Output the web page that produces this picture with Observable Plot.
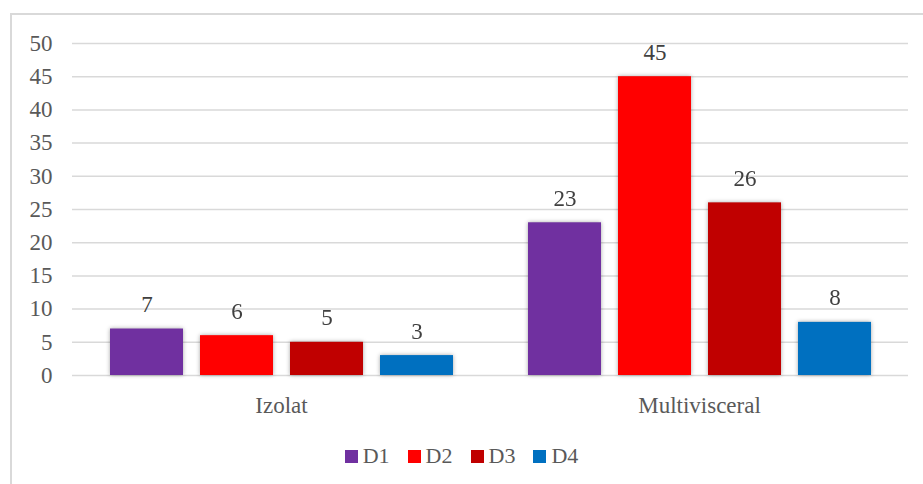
<!DOCTYPE html>
<html>
<head>
<meta charset="utf-8">
<script src="https://cdn.jsdelivr.net/npm/d3@7"></script>
<script src="https://cdn.jsdelivr.net/npm/@observablehq/plot@0.6"></script>
<style>
  html, body { margin: 0; padding: 0; background: #fff; overflow: hidden; }
  #wrap { position: relative; width: 923px; height: 484px; overflow: hidden; font-family: "Liberation Serif", "DejaVu Serif", serif; }
  #frame { position: absolute; left: 10px; top: 13px; width: 940px; height: 520px; border: 2px solid #d9d9d9; box-sizing: border-box; }
  #chart { position: absolute; left: 0; top: 0; }
  #legend { position: absolute; left: 0; top: 443px; width: 923px; display: flex; justify-content: center; gap: 18px; font-size: 22px; color: #595959; font-family: "Liberation Serif", "DejaVu Serif", serif; }
  #legend .item { display: flex; align-items: center; }
  #legend .sw { width: 13px; height: 13px; margin-right: 5px; display: inline-block; }
  #chart svg, #chart svg text { font-family: "Liberation Serif", "DejaVu Serif", serif !important; }
</style>
</head>
<body>
<div id="wrap">
  <div id="frame"></div>
  <div id="chart"></div>
  <div id="legend"></div>
</div>
<script>
const categories = ["Izolat", "Multivisceral"];
const series = ["D1", "D2", "D3", "D4"];
const colors = ["#7030A0", "#FF0000", "#C00000", "#0070C0"];
const valuesIzolat = [7, 6, 5, 3];
const valuesMultivisceral = [23, 45, 26, 8];
const yTicks = [0, 5, 10, 15, 20, 25, 30, 35, 40, 45, 50];

const allValues = [valuesIzolat, valuesMultivisceral];
const data = [];
categories.forEach((c, i) => series.forEach((s, j) => data.push({category: c, series: s, value: allValues[i][j]})));

const chart = Plot.plot({
  width: 923,
  height: 430,
  marginLeft: 72,
  marginRight: 15,
  marginTop: 43,
  marginBottom: 55,
  style: {fontFamily: "Liberation Serif, DejaVu Serif, serif", fontSize: "23px", color: "#595959", background: "transparent", overflow: "visible"},
  fx: {domain: categories, padding: 0, label: null, axis: "bottom", tickSize: 0, tickPadding: 21},
  x: {domain: series, paddingInner: 0.19, paddingOuter: 0.41, axis: null},
  y: {domain: [0, 50], ticks: yTicks, label: null, tickSize: 0, tickPadding: 20},
  color: {domain: series, range: colors},
  marks: [
    Plot.gridY(yTicks, {stroke: "#d9d9d9", strokeOpacity: 1, strokeWidth: 1.5}),
    Plot.axisY(yTicks, {tickSize: 0, tickPadding: 20, label: null, fill: "#595959"}),
    Plot.barY(data, {fx: "category", x: "series", y: "value", fill: "series"}),
    Plot.text(data, {fx: "category", x: "series", y: "value", text: d => String(d.value), lineAnchor: "bottom", dy: -17, fill: "#404040", fontSize: 23})
  ]
});
document.getElementById("chart").appendChild(chart);
d3.select(chart).selectAll("g[aria-label='bar']").style("filter", "drop-shadow(0px 0px 2px rgba(0,0,0,0.35))");

const legend = document.getElementById("legend");
series.forEach((s, i) => {
  const item = document.createElement("div");
  item.className = "item";
  const sw = document.createElement("span");
  sw.className = "sw";
  sw.style.background = colors[i];
  const t = document.createElement("span");
  t.textContent = s;
  item.appendChild(sw);
  item.appendChild(t);
  legend.appendChild(item);
});
</script>
</body>
</html>
